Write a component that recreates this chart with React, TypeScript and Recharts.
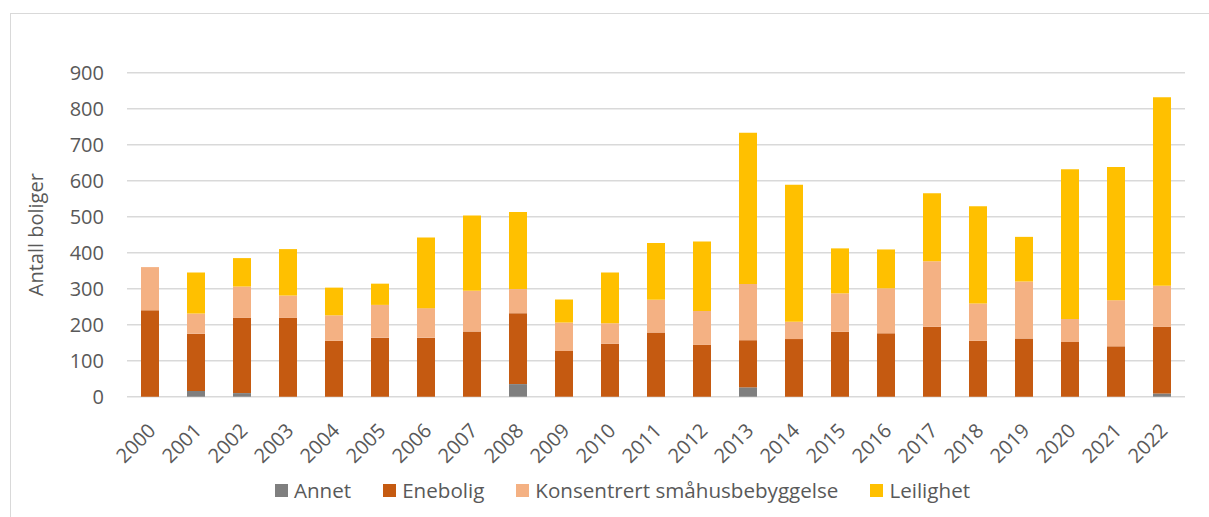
import React from 'react';
import { BarChart, Bar, XAxis, YAxis, CartesianGrid } from 'recharts';

const years = ['2000','2001','2002','2003','2004','2005','2006','2007','2008','2009','2010','2011','2012','2013','2014','2015','2016','2017','2018','2019','2020','2021','2022'];
const annet = [0, 16, 10, 0, 0, 0, 0, 0, 35, 0, 0, 0, 0, 26, 0, 0, 0, 0, 0, 0, 0, 0, 9];
const enebolig = [240, 159, 209, 219, 155, 164, 164, 181, 197, 127, 147, 178, 144, 131, 160, 180, 176, 194, 155, 162, 152, 140, 185];
const konsentrert = [120, 56, 87, 62, 71, 91, 82, 113, 67, 79, 57, 91, 94, 156, 48, 107, 125, 182, 104, 158, 64, 128, 114];
const leilighet = [0, 114, 79, 129, 77, 59, 196, 209, 214, 64, 141, 158, 193, 420, 381, 125, 108, 189, 270, 124, 416, 370, 524];
const yTicks = [0, 100, 200, 300, 400, 500, 600, 700, 800, 900];

const series = [
  { key: 'annet', name: 'Annet', color: '#7f7f7f' },
  { key: 'enebolig', name: 'Enebolig', color: '#c55a11' },
  { key: 'konsentrert', name: 'Konsentrert småhusbebyggelse', color: '#f4b183' },
  { key: 'leilighet', name: 'Leilighet', color: '#ffc000' },
];

const data = years.map((year, i) => ({
  year,
  annet: annet[i],
  enebolig: enebolig[i],
  konsentrert: konsentrert[i],
  leilighet: leilighet[i],
}));

const font = '"Open Sans", sans-serif';
const textColor = '#595959';

const XTick = (props: any) => {
  const { x, payload } = props;
  return (
    <g transform={`translate(${x + 2},${427})`}>
      <text transform="rotate(-45)" textAnchor="end" dy="0.35em" fontSize={20} fill={textColor} fontFamily={font}>
        {payload.value}
      </text>
    </g>
  );
};

// legend kept outside the chart so it doesn't eat into the plot height
const ChartLegend = () => (
  <div style={{ position: 'absolute', top: 476, left: 0, width: 1209, display: 'flex', justifyContent: 'center', paddingLeft: 36, boxSizing: 'border-box', fontFamily: font, fontSize: 20.6, color: textColor }}>
    {series.map((s, i) => (
      <div key={s.key} style={{ display: 'flex', alignItems: 'center', marginRight: i < series.length - 1 ? 32 : 0 }}>
        <span style={{ width: 13, height: 13, background: s.color, display: 'inline-block', marginRight: 6 }} />
        <span>{s.name}</span>
      </div>
    ))}
  </div>
);

export default function App() {
  return (
    <div style={{ position: 'absolute', left: 0, top: 0, width: 1209, height: 517, background: '#fff', overflow: 'hidden' }}>
      <div style={{ position: 'absolute', left: 10, top: 13, width: 1230, height: 540, border: '1.3px solid #d9d9d9' }} />
      <BarChart
        width={1209}
        height={517}
        data={data}
        margin={{ top: 72.7, right: 24, left: 0, bottom: 0 }}
        style={{ position: 'absolute', left: 0, top: 0 }}
      >
        <CartesianGrid vertical={false} stroke="#d9d9d9" strokeWidth={1.4} />
        <XAxis
          dataKey="year"
          axisLine={false}
          tickLine={false}
          interval={0}
          height={120.3}
          tick={<XTick />}
        />
        <YAxis
          width={127}
          domain={[0, 900]}
          ticks={yTicks}
          interval={0}
          axisLine={false}
          tickLine={false}
          tickMargin={17}
          tick={{ fontSize: 20, fill: textColor, fontFamily: font }}
          label={{ value: 'Antall boliger', angle: -90, position: 'center', dx: -28, fontSize: 20, fill: textColor, fontFamily: font }}
        />
        {series.map((s) => (
          <Bar key={s.key} dataKey={s.key} name={s.name} stackId="a" fill={s.color} barSize={18} isAnimationActive={false} />
        ))}
      </BarChart>
      <ChartLegend />
    </div>
  );
}
